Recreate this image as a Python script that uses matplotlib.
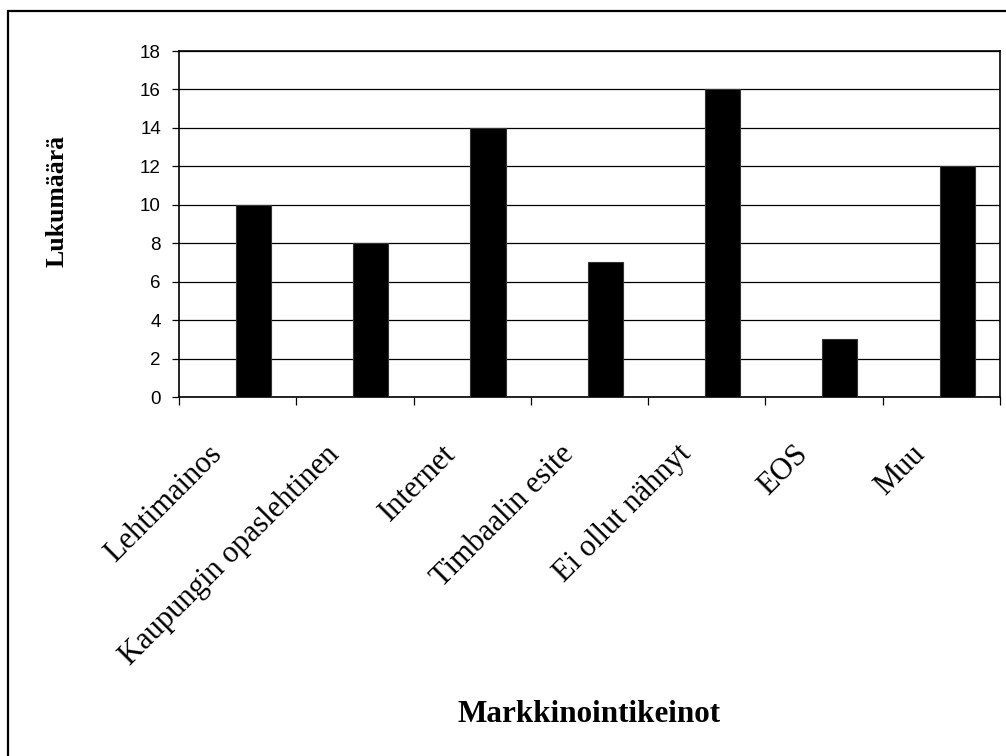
import numpy as np
import matplotlib.pyplot as plt
from matplotlib.patches import Rectangle
from matplotlib.transforms import ScaledTranslation

categories = ['Lehtimainos', 'Kaupungin opaslehtinen', 'Internet', 'Timbaalin esite',
              'Ei ollut nähnyt', 'EOS', 'Muu']
counts = [10, 8, 14, 7, 16, 3, 12]
yticks = [0, 2, 4, 6, 8, 10, 12, 14, 16, 18]

W, H = 1006, 756
fig = plt.figure(figsize=(W / 100, H / 100), dpi=100)
fig.patch.set_facecolor('white')

# frame around the whole chart (right and bottom run off the page)
fig.patches.append(Rectangle((8 / W, -0.05), 1.2, 1 - 11 / H + 0.05, transform=fig.transFigure,
                             fill=False, edgecolor='black', linewidth=1.6))

ax = fig.add_axes([179 / W, 1 - 397 / H, (1000 - 179) / W, (397 - 51) / H])

x = np.arange(len(categories))
ax.bar(x + 0.135, counts, width=0.30, color='black', edgecolor='#333333', linewidth=0.8, zorder=3)

ax.set_xlim(-0.5, len(categories) - 0.5)
ax.set_ylim(0, 18)
ax.set_yticks(yticks)
ax.yaxis.grid(True, color='black', linewidth=0.9)
ax.set_axisbelow(True)

# tick marks between categories, labels at category centres
ax.set_xticks(np.arange(len(categories) + 1) - 0.5)
ax.set_xticklabels([])
ax.set_xticks(x, minor=True)
ax.set_xticklabels(categories, minor=True, rotation=45, ha='right', va='baseline',
                   rotation_mode='anchor', fontfamily='Liberation Serif', fontsize=22)
ax.tick_params(axis='x', which='major', length=6, width=0.9, direction='out')
ax.tick_params(axis='x', which='minor', length=0, pad=42)
ax.tick_params(axis='y', length=5, width=0.9, pad=8, labelsize=13.5)
shift = ScaledTranslation(-15 / 100, 0, fig.dpi_scale_trans)
for lab in ax.get_xticklabels(minor=True):
    lab.set_transform(lab.get_transform() + shift)
for lab in ax.get_yticklabels():
    lab.set_fontfamily('Liberation Sans')

for s in ax.spines.values():
    s.set_color('black')
    s.set_linewidth(1.2)

fig.text(589 / W, 1 - 722 / H, 'Markkinointikeinot', ha='center', va='baseline',
         fontfamily='Liberation Serif', fontweight='bold', fontsize=22.4)
fig.text(57 / W, 1 - 201 / H, 'Lukumäärä', ha='center', va='center', rotation=90,
         fontfamily='Liberation Serif', fontweight='bold', fontsize=18.5)

fig.savefig('out.png', dpi=100)
